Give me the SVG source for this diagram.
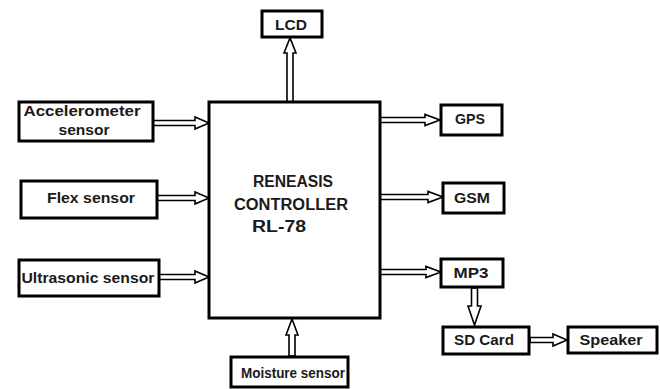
<svg xmlns="http://www.w3.org/2000/svg" width="660" height="389" viewBox="0 0 660 389">
<style>
.box{fill:#fff;stroke:#000;stroke-width:3}
.ctl{fill:#fff;stroke:#000;stroke-width:3}
.lbl{font-family:"Liberation Sans",Arial,sans-serif;font-weight:bold;font-size:15px;fill:#1a1a1a;text-anchor:middle}
.big{font-family:"Liberation Sans",Arial,sans-serif;font-weight:bold;font-size:16px;fill:#1a1a1a;text-anchor:middle}
.arr{fill:#fff;stroke:#000;stroke-width:1.6;stroke-linejoin:miter}
</style>
<rect width="660" height="389" fill="#fff"/>
<g id="connectors">
<path class="arr" d="M153,120.5 L195,120.5 L195,117 L209,123 L195,129 L195,125.5 L153,125.5 Z"/>
<path class="arr" d="M157,195.5 L195,195.5 L195,192 L209,198 L195,204 L195,200.5 L157,200.5 Z"/>
<path class="arr" d="M159,274.5 L195,274.5 L195,271 L209,277 L195,283 L195,279.5 L159,279.5 Z"/>
<path class="arr" d="M287,102 L287,53 L284,53 L290,38 L296,53 L293,53 L293,102 Z"/>
<path class="arr" d="M289,356 L289,335 L286,335 L292,319 L298,335 L295,335 L295,356 Z"/>
<path class="arr" d="M380,117.5 L425,117.5 L425,114.5 L440,120 L425,125.5 L425,122.5 L380,122.5 Z"/>
<path class="arr" d="M380,194.5 L428,194.5 L428,191.5 L443,197 L428,202.5 L428,199.5 L380,199.5 Z"/>
<path class="arr" d="M380,269.5 L426,269.5 L426,266.5 L441,272 L426,277.5 L426,274.5 L380,274.5 Z"/>
<path class="arr" d="M471.5,288 L471.5,306 L468,306 L474.5,325 L481,306 L477.5,306 L477.5,288 Z"/>
<path class="arr" d="M530,337.5 L553,337.5 L553,334 L567,340 L553,346 L553,342.5 L530,342.5 Z"/>
</g>
<g id="controller">
<rect class="ctl" x="209" y="102" width="171" height="216"/>
<text class="big" x="293" y="187" textLength="80" lengthAdjust="spacingAndGlyphs">RENEASIS</text>
<text class="big" x="291" y="210" textLength="114" lengthAdjust="spacingAndGlyphs">CONTROLLER</text>
<text class="big" x="279" y="232" textLength="54" lengthAdjust="spacingAndGlyphs">RL-78</text>
</g>
<g id="lcd">
<rect class="box" x="262" y="11" width="60" height="26"/>
<text class="lbl" x="291" y="30" textLength="32" lengthAdjust="spacingAndGlyphs">LCD</text>
</g>
<g id="accelerometer">
<rect class="box" x="19" y="102" width="134" height="39"/>
<text class="lbl" x="82" y="116" textLength="117" lengthAdjust="spacingAndGlyphs">Accelerometer</text>
<text class="lbl" x="84" y="135" textLength="51" lengthAdjust="spacingAndGlyphs">sensor</text>
</g>
<g id="flex">
<rect class="box" x="21" y="181" width="136" height="37"/>
<text class="lbl" x="91" y="203" textLength="88" lengthAdjust="spacingAndGlyphs">Flex sensor</text>
</g>
<g id="ultrasonic">
<rect class="box" x="19" y="260" width="140" height="36"/>
<text class="lbl" x="88" y="283" textLength="133" lengthAdjust="spacingAndGlyphs">Ultrasonic sensor</text>
</g>
<g id="moisture">
<rect class="box" x="231" y="357" width="117" height="30"/>
<text class="lbl" x="293" y="378" textLength="104" lengthAdjust="spacingAndGlyphs">Moisture sensor</text>
</g>
<g id="gps">
<rect class="box" x="441" y="105" width="61" height="30"/>
<text class="lbl" x="470" y="124" textLength="30" lengthAdjust="spacingAndGlyphs">GPS</text>
</g>
<g id="gsm">
<rect class="box" x="443" y="183" width="61" height="30"/>
<text class="lbl" x="472" y="203" textLength="36" lengthAdjust="spacingAndGlyphs">GSM</text>
</g>
<g id="mp3">
<rect class="box" x="441" y="259" width="62" height="28"/>
<text class="lbl" x="471" y="278" textLength="35" lengthAdjust="spacingAndGlyphs">MP3</text>
</g>
<g id="sdcard">
<rect class="box" x="443" y="327" width="86" height="27"/>
<text class="lbl" x="484" y="345" textLength="60" lengthAdjust="spacingAndGlyphs">SD Card</text>
</g>
<g id="speaker">
<rect class="box" x="568" y="327" width="89" height="26"/>
<text class="lbl" x="611" y="345" textLength="63" lengthAdjust="spacingAndGlyphs">Speaker</text>
</g>
</svg>
